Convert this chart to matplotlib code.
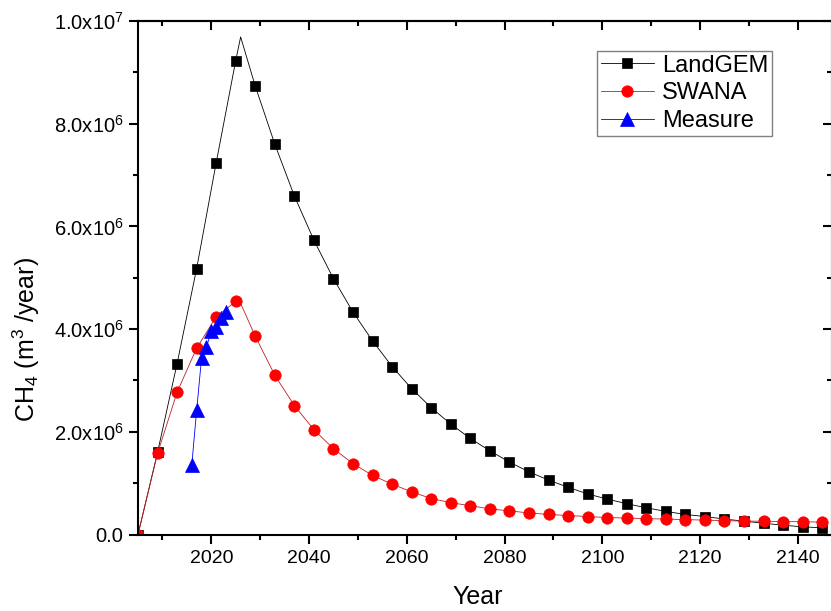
import matplotlib
matplotlib.use('Agg')
import matplotlib.pyplot as plt
from matplotlib.ticker import MultipleLocator, FuncFormatter
import numpy as np

plt.rcParams['font.family'] = ['Liberation Sans', 'DejaVu Sans']
plt.rcParams['mathtext.fontset'] = 'custom'
plt.rcParams['mathtext.rm'] = 'Liberation Sans'
plt.rcParams['mathtext.default'] = 'regular'

# model output, one marker every 4 years
years = [2005, 2009, 2013, 2017, 2021, 2025, 2029, 2033, 2037, 2041, 2045, 2049,
         2053, 2057, 2061, 2065, 2069, 2073, 2077, 2081, 2085, 2089, 2093, 2097,
         2101, 2105, 2109, 2113, 2117, 2121, 2125, 2129, 2133, 2137, 2141, 2145]
landgem = [0.00, 1.60, 3.33, 5.18, 7.24, 9.23, 8.73, 7.60, 6.59, 5.73, 4.98, 4.33,
           3.77, 3.27, 2.84, 2.47, 2.15, 1.87, 1.63, 1.41, 1.22, 1.06, 0.92, 0.79,
           0.69, 0.60, 0.52, 0.45, 0.39, 0.35, 0.30, 0.26, 0.22, 0.18, 0.15, 0.13]
swana = [0.00, 1.58, 2.77, 3.63, 4.24, 4.54, 3.86, 3.10, 2.51, 2.04, 1.67, 1.38,
         1.15, 0.98, 0.83, 0.70, 0.62, 0.56, 0.50, 0.46, 0.42, 0.39, 0.37, 0.35,
         0.33, 0.32, 0.31, 0.30, 0.29, 0.28, 0.27, 0.26, 0.26, 0.25, 0.25, 0.24]

# closure year: line apex, no marker drawn there
peak_year = 2026
landgem_peak = 9.69
swana_peak = 4.50

measure_years = [2016, 2017, 2018, 2019, 2020, 2021, 2022, 2023]
measure = [1.35, 2.42, 3.43, 3.65, 3.96, 4.05, 4.21, 4.33]

scale = 1e6


def with_peak(xs, ys, px, py):
    xs = list(xs) + [px]
    ys = list(ys) + [py]
    order = np.argsort(xs)
    xs = np.array(xs)[order]
    ys = np.array(ys)[order] * scale
    marks = [i for i in range(len(xs)) if xs[i] != px]
    return xs, ys, marks


lx, ly, lmarks = with_peak(years, landgem, peak_year, landgem_peak)
sx, sy, smarks = with_peak(years, swana, peak_year, swana_peak)

fig = plt.figure(figsize=(8.31, 6.11), dpi=100)
ax = fig.add_axes([138/831, 76.5/611, 694/831, 513.5/611])

ax.plot(lx, ly, color='black', lw=0.6, marker='s', ms=7.4, mfc='black',
        mec='black', mew=0.5, markevery=lmarks, label='LandGEM')
ax.plot(sx, sy, color='#c02020', lw=0.6, marker='o', ms=8.2, mfc='red',
        mec='red', mew=0.5, markevery=smarks, label='SWANA')
ax.plot(measure_years, np.array(measure) * scale, color='blue', lw=0.6,
        marker='^', ms=9.5, mfc='blue', mec='blue', mew=0.5, label='Measure')

ax.set_xlim(2005, 2147)
ax.set_ylim(0, 1e7)

ax.xaxis.set_major_locator(MultipleLocator(20))
ax.xaxis.set_minor_locator(MultipleLocator(10))
ax.yaxis.set_major_locator(MultipleLocator(2e6))
ax.yaxis.set_minor_locator(MultipleLocator(1e6))


def sci(v, pos):
    if v == 0:
        return '0.0'
    e = int(np.floor(np.log10(abs(v)) + 1e-9))
    m = v / 10**e
    return '%.1fx10$^{%d}$' % (m, e)


ax.yaxis.set_major_formatter(FuncFormatter(sci))

ax.tick_params(which='both', direction='out', width=1.5, top=False, right=False,
               labelsize=14, pad=5)
ax.tick_params(axis='y', labelsize=14.5, pad=4)
ax.tick_params(which='major', length=6.5)
ax.tick_params(which='minor', length=3.5)
for s in ax.spines.values():
    s.set_linewidth(1.5)

# mirrored ticks on top and right, pointing inward
top = ax.secondary_xaxis('top')
top.xaxis.set_major_locator(MultipleLocator(20))
top.xaxis.set_minor_locator(MultipleLocator(10))
top.tick_params(which='both', direction='in', width=1.5, labeltop=False)
top.tick_params(which='major', length=6.5)
top.tick_params(which='minor', length=3.5)
top.spines['top'].set_linewidth(1.5)

right = ax.secondary_yaxis('right')
right.yaxis.set_major_locator(MultipleLocator(2e6))
right.yaxis.set_minor_locator(MultipleLocator(1e6))
right.tick_params(which='both', direction='in', width=1.5, labelright=False)
right.tick_params(which='major', length=6.5)
right.tick_params(which='minor', length=3.5)
right.spines['right'].set_linewidth(1.5)

ax.set_xlabel('Year', fontsize=18)
ax.set_ylabel('CH$_4$ (m$^3$ /year)', fontsize=18)
ax.xaxis.set_label_coords(0.49, -0.098)
ax.yaxis.set_label_coords(-0.138, 0.38)

leg = ax.legend(loc='upper left', bbox_to_anchor=(0.6614, 0.9416), fontsize=17,
                fancybox=False, edgecolor='#808080', framealpha=1,
                borderpad=0.15, labelspacing=0.25, handlelength=2.25,
                handletextpad=0.35, borderaxespad=0)
leg.get_frame().set_linewidth(1.0)

fig.savefig('out.png', dpi=100)
